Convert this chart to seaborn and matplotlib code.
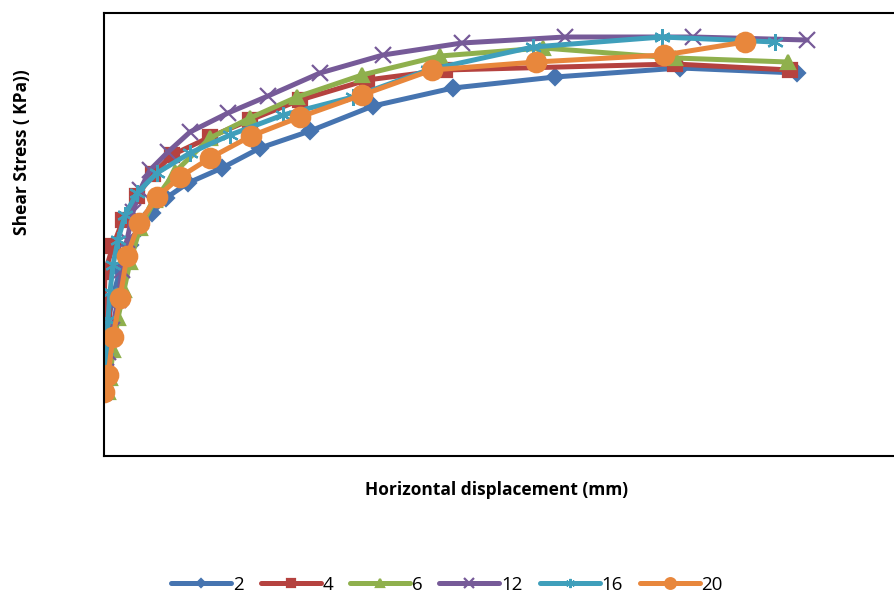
import matplotlib
matplotlib.use("Agg")
import matplotlib.pyplot as plt
import seaborn as sns

# displacement (mm) and shear stress (kPa), one pair per series
x_2 = [0.00, 0.01, 0.02, 0.03, 0.08, 0.16, 0.26, 0.36, 0.48, 0.62, 0.84, 1.18, 1.56, 2.06, 2.69, 3.49, 4.51, 5.76, 6.93]
y_2 = [16.0, 20.25, 25.5, 31.25, 39.0, 46.5, 52.75, 57.0, 60.75, 64.5, 68.25, 72.0, 77.0, 81.25, 87.5, 92.0, 94.75, 97.0, 95.75]

x_4 = [0.00, 0.00, 0.00, 0.01, 0.09, 0.19, 0.33, 0.49, 0.68, 1.06, 1.46, 1.96, 2.63, 3.41, 5.71, 6.86]
y_4 = [16.0, 26.5, 36.5, 46.0, 52.5, 59.0, 65.0, 70.5, 75.25, 79.75, 84.0, 89.0, 94.0, 96.5, 98.0, 96.5]

x_6 = [0.04, 0.06, 0.09, 0.14, 0.20, 0.26, 0.36, 0.51, 0.71, 1.06, 1.46, 1.93, 2.58, 3.36, 4.39, 5.71, 6.84]
y_6 = [16.0, 19.5, 26.5, 34.5, 41.5, 48.5, 57.0, 64.0, 71.0, 79.5, 84.5, 89.75, 95.25, 100.0, 102.0, 99.5, 98.5]

x_12 = [0.00, 0.02, 0.04, 0.08, 0.14, 0.18, 0.23, 0.29, 0.36, 0.46, 0.64, 0.86, 1.24, 1.64, 2.16, 2.79, 3.58, 4.61, 5.89, 7.03]
y_12 = [16.0, 21.0, 26.0, 31.5, 39.0, 46.5, 54.0, 61.0, 66.5, 71.5, 76.0, 81.0, 85.75, 90.0, 95.75, 100.25, 103.25, 104.75, 104.75, 104.0]

x_16 = [0.00, 0.01, 0.02, 0.04, 0.06, 0.09, 0.14, 0.21, 0.33, 0.53, 0.86, 1.26, 1.79, 2.49, 3.24, 4.29, 5.58, 6.71]
y_16 = [16.0, 20.25, 26.5, 34.0, 41.0, 47.75, 54.0, 60.25, 65.75, 70.75, 75.75, 80.25, 85.25, 89.75, 96.5, 102.25, 104.75, 103.5]

x_20 = [0.00, 0.04, 0.09, 0.16, 0.23, 0.35, 0.53, 0.76, 1.06, 1.47, 1.96, 2.58, 3.28, 4.32, 5.60, 6.41]
y_20 = [16.0, 20.25, 29.75, 39.5, 50.0, 58.25, 64.75, 69.75, 74.5, 80.0, 84.75, 90.25, 96.5, 98.5, 100.25, 103.5]

labels = ["2", "4", "6", "12", "16", "20"]
xs = [x_2, x_4, x_6, x_12, x_16, x_20]
ys = [y_2, y_4, y_6, y_12, y_16, y_20]

colores = ["#4674B0", "#B5423F", "#8FB04D", "#765A98", "#3F9FBB", "#E8873C"]
marcadores = ["D", "s", "^", "x", (6, 2, 0), "o"]
tamanhos = [8, 10, 10, 12, 12, 14]

sns.set_style("white")
plt.rcParams["font.family"] = ["Open Sans", "DejaVu Sans"]
plt.rcParams["text.color"] = "black"

fig = plt.figure(figsize=(8.94, 5.97), dpi=100)
ax = fig.add_axes([104 / 894, (597 - 456) / 597, (900 - 104) / 894, (456 - 13) / 597])

for xv, yv, lab, cor, mk, ms in zip(xs, ys, labels, colores, marcadores, tamanhos):
    sns.lineplot(
        x=xv, y=yv, ax=ax, color=cor, label=lab,
        sort=False, estimator=None, linewidth=3.6,
        marker=mk, markersize=ms, markeredgecolor=cor,
        markerfacecolor=cor, markeredgewidth=1.6,
    )

ax.set_xlim(0, 7.96)
ax.set_ylim(0, 110.75)
ax.set_xticks([])
ax.set_yticks([])
ax.set_xlabel("")
ax.set_ylabel("")
for lado in ["left", "top", "bottom"]:
    ax.spines[lado].set_color("black")
    ax.spines[lado].set_linewidth(1.5)
ax.spines["right"].set_visible(False)

# rótulos dos eixos nas posições do original
fig.text(497 / 894, 1 - 490 / 597, "Horizontal displacement (mm)", ha="center", va="center",
         fontsize=12.5, fontweight="bold", color="black")
fig.text(22 / 894, 1 - 152 / 597, "Shear Stress ( KPa))", ha="center", va="center",
         rotation=90, fontsize=12.5, fontweight="bold", color="black")

ax.get_legend().remove()
handles, lbls = ax.get_legend_handles_labels()
leg = fig.legend(handles, lbls, loc="center", bbox_to_anchor=(447 / 894, 1 - 585 / 597), ncol=6,
                 frameon=False, fontsize=13.5, handlelength=3.2, handletextpad=0.1,
                 columnspacing=0.9, markerscale=0.55)
for t in leg.get_texts():
    t.set_color("black")

fig.savefig("out.png", dpi=100)
